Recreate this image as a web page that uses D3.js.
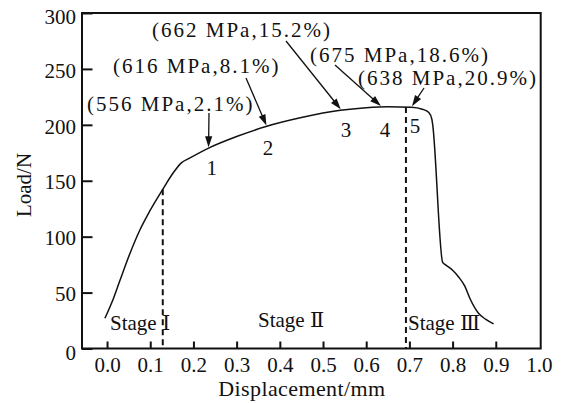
<!DOCTYPE html>
<html>
<head>
<meta charset="utf-8">
<script src="https://cdn.jsdelivr.net/npm/d3@7"></script>
<style>
  html, body { margin: 0; padding: 0; background: #fff; }
  svg { display: block; }
  text { font-family: "Liberation Serif", "Times New Roman", "DejaVu Serif", serif; fill: #111; }
</style>
</head>
<body>
<svg id="chart" width="569" height="403"></svg>
<script>
// Tensile load–displacement record
const displacement = [-0.005, 0.015, 0.03, 0.053, 0.076, 0.099, 0.13, 0.155, 0.172, 0.19, 0.234, 0.30, 0.368, 0.45, 0.54, 0.60, 0.65, 0.705, 0.73, 0.745, 0.752, 0.754, 0.777, 0.783, 0.80, 0.814, 0.828, 0.841, 0.86, 0.877, 0.895];
const load         = [27, 45, 61, 85, 106, 123, 143, 158, 166, 170, 179, 189.5, 198.5, 206.5, 213, 215.3, 216.2, 215.8, 214, 211, 205, 200, 77, 75, 70, 64, 56, 44, 31.5, 26, 22];

// Axis ticks
const xTicks = [0, 0.1, 0.2, 0.3, 0.4, 0.5, 0.6, 0.7, 0.8, 0.9, 1.0];
const yTicks = [0, 50, 100, 150, 200, 250, 300];

// Stage boundaries and names
const stageBounds = [0.129, 0.692];
const stageNames = ["Stage Ⅰ", "Stage Ⅱ", "Stage Ⅲ"];

// Marked points: id, displacement, load and (stress, strain) note
const pointIds   = ["1", "2", "3", "4", "5"];
const pointDisp  = [0.235, 0.369, 0.541, 0.634, 0.706];
const pointLoad  = [179, 198.5, 213, 216, 215.8];
const pointNotes = ["(556 MPa,2.1%)", "(616 MPa,8.1%)", "(662 MPa,15.2%)", "(675 MPa,18.6%)", "(638 MPa,20.9%)"];

// ---- layout ----
const W = 569, H = 403;
const plot = { left: 82, right: 540.7, top: 13, bottom: 348.5 };

const svg = d3.select("#chart");

const x = d3.scaleLinear().domain([-0.058, 1.004]).range([plot.left, plot.right]);
const y = d3.scaleLinear().domain([0, 300]).range([plot.bottom, plot.top]);

const loadAt = d => {
  const i = d3.bisectLeft(displacement, d);
  const a = Math.max(1, Math.min(displacement.length - 1, i));
  const t = (d - displacement[a - 1]) / (displacement[a] - displacement[a - 1]);
  return load[a - 1] + t * (load[a] - load[a - 1]);
};

// x axis (inward ticks)
const xAxis = d3.axisBottom(x)
  .tickValues(xTicks)
  .tickFormat(d3.format(".1f"))
  .tickSizeInner(-7)
  .tickSizeOuter(0)
  .tickPadding(8.5);
const gx = svg.append("g").attr("transform", `translate(0,${plot.bottom})`).call(xAxis);
gx.select(".domain").remove();
gx.selectAll(".tick line").attr("stroke", "#111").attr("stroke-width", 2)
  .filter(d => d === 1.0).remove();
gx.selectAll(".tick text").attr("font-size", 21).attr("fill", "#111")
  .style("font-family", "'Liberation Serif', serif");

// y axis (inward ticks)
const yAxis = d3.axisLeft(y)
  .tickValues(yTicks)
  .tickFormat(d3.format("d"))
  .tickSizeInner(-10.5)
  .tickSizeOuter(0)
  .tickPadding(6);
const gy = svg.append("g").attr("transform", `translate(${plot.left},0)`).call(yAxis);
gy.select(".domain").remove();
gy.selectAll(".tick line").attr("stroke", "#111").attr("stroke-width", 2);
gy.selectAll(".tick text").attr("font-size", 21).attr("fill", "#111")
  .style("font-family", "'Liberation Serif', serif")
  .attr("dy", d => d === 0 ? "0.52em" : (d === 300 ? "0.48em" : "0.39em"));

// frame
svg.append("rect")
  .attr("x", plot.left).attr("y", plot.top)
  .attr("width", plot.right - plot.left).attr("height", plot.bottom - plot.top)
  .attr("fill", "none").attr("stroke", "#111").attr("stroke-width", 2);

// axis titles
svg.append("text")
  .attr("x", (x(0) + x(0.9)) / 2 + 0.5).attr("y", 396)
  .attr("text-anchor", "middle").attr("font-size", 22)
  .style("letter-spacing", "0.4px")
  .text("Displacement/mm");

svg.append("text")
  .attr("transform", `translate(31,185) rotate(-90)`)
  .attr("text-anchor", "middle").attr("font-size", 21)
  .text("Load/N");

// stage boundaries (dashed)
svg.append("g").selectAll("line").data(stageBounds).join("line")
  .attr("x1", d => x(d)).attr("x2", d => x(d))
  .attr("y1", d => y(loadAt(d))).attr("y2", plot.bottom)
  .attr("stroke", "#111").attr("stroke-width", 2).attr("stroke-dasharray", "6,4");

// load curve
const line = d3.line()
  .x((d, i) => x(displacement[i]))
  .y((d, i) => y(load[i]))
  .curve(d3.curveMonotoneX);
svg.append("path")
  .datum(load)
  .attr("d", line)
  .attr("fill", "none").attr("stroke", "#111").attr("stroke-width", 1.5);

// stage labels
const stagePos = [[110, 330], [258, 327], [408, 330]];
svg.append("g").selectAll("text").data(stageNames).join("text")
  .attr("x", (d, i) => stagePos[i][0]).attr("y", (d, i) => stagePos[i][1])
  .attr("font-size", 21)
  .text(d => d);

// point numbers
const idPos = [[211.7, 175], [268, 155], [346, 137], [385, 137], [415, 133]];
svg.append("g").selectAll("text").data(pointIds).join("text")
  .attr("x", (d, i) => idPos[i][0]).attr("y", (d, i) => idPos[i][1])
  .attr("text-anchor", "middle").attr("font-size", 21)
  .text(d => d);

// notes with arrows
const notePos = [[87, 111], [113, 73], [152, 37], [310, 62], [358, 85]];
const arrowStart = [[209, 113], [246, 78], [286, 41], [335, 65], [424, 88]];

svg.append("g").selectAll("text").data(pointNotes).join("text")
  .attr("x", (d, i) => notePos[i][0]).attr("y", (d, i) => notePos[i][1])
  .attr("font-size", 21)
  .style("letter-spacing", "2px")
  .text(d => d);

const arrows = svg.append("g");
pointIds.forEach((id, i) => {
  const tx = x(pointDisp[i]), ty = y(pointLoad[i]) - 1;
  const [sx, sy] = arrowStart[i];
  const len = Math.hypot(tx - sx, ty - sy);
  const ux = (tx - sx) / len, uy = (ty - sy) / len;
  const hl = 11, hw = 3.6;
  arrows.append("line")
    .attr("x1", sx).attr("y1", sy)
    .attr("x2", tx - ux * (hl - 2)).attr("y2", ty - uy * (hl - 2))
    .attr("stroke", "#111").attr("stroke-width", 1.3);
  const bx = tx - ux * hl, by = ty - uy * hl;
  arrows.append("path")
    .attr("d", `M${tx},${ty}L${bx - uy * hw},${by + ux * hw}L${bx + uy * hw},${by - ux * hw}Z`)
    .attr("fill", "#111");
});
</script>
</body>
</html>
